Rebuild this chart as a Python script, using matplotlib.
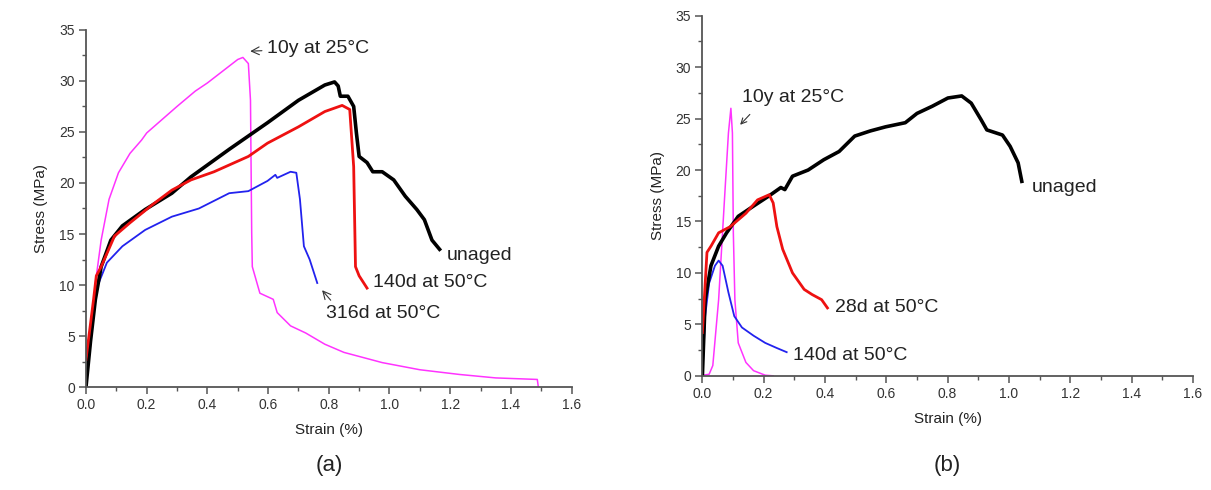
import numpy as np
import matplotlib.pyplot as plt
from matplotlib.ticker import MultipleLocator

plt.rcParams['font.family'] = ['Liberation Sans', 'DejaVu Sans']

# ── panel (a) curves ──────────────────────────────────────────
a_10y_x = [0, 0.019, 0.031, 0.05, 0.076, 0.107, 0.145, 0.183, 0.2, 0.3, 0.36, 0.4, 0.5, 0.517,
           0.535, 0.542, 0.546, 0.548, 0.573, 0.617, 0.63, 0.674, 0.724, 0.787, 0.85, 0.976,
           1.10, 1.23, 1.35, 1.487, 1.49]
a_10y_y = [0, 5.3, 10.2, 14.4, 18.4, 21.0, 22.9, 24.2, 24.9, 27.5, 29.0, 29.8, 32.1, 32.3,
           31.7, 28.1, 15.1, 11.8, 9.2, 8.6, 7.3, 6.0, 5.3, 4.2, 3.4, 2.4,
           1.7, 1.24, 0.9, 0.75, 0.1]

a_unaged_x = [0, 0.015, 0.031, 0.05, 0.082, 0.12, 0.195, 0.283, 0.346, 0.472, 0.598, 0.7, 0.787,
              0.819, 0.831, 0.838, 0.863, 0.882, 0.891, 0.9, 0.926, 0.945, 0.976, 1.014, 1.052,
              1.09, 1.115, 1.14, 1.165]
a_unaged_y = [0, 4.5, 8.6, 11.8, 14.4, 15.8, 17.4, 19.0, 20.6, 23.3, 25.9, 28.1, 29.6,
              29.9, 29.5, 28.5, 28.5, 27.5, 24.9, 22.6, 22.0, 21.1, 21.1, 20.3, 18.7,
              17.4, 16.4, 14.4, 13.5]

a_140d_x = [0, 0.025, 0.034, 0.05, 0.094, 0.145, 0.22, 0.283, 0.346, 0.422, 0.535, 0.598, 0.7,
            0.787, 0.844, 0.869, 0.882, 0.888, 0.9, 0.926]
a_140d_y = [2.7, 8.6, 10.9, 11.8, 14.8, 16.1, 17.9, 19.3, 20.3, 21.1, 22.6, 23.9, 25.5,
            27.0, 27.6, 27.2, 21.6, 11.8, 10.9, 9.7]

a_316d_x = [0, 0.019, 0.038, 0.069, 0.12, 0.195, 0.283, 0.372, 0.472, 0.535, 0.598, 0.624, 0.63,
            0.674, 0.693, 0.705, 0.718, 0.737, 0.762]
a_316d_y = [0, 7.0, 9.9, 12.2, 13.8, 15.4, 16.7, 17.5, 19.0, 19.2, 20.2, 20.8, 20.5,
            21.1, 21.0, 18.4, 13.8, 12.5, 10.2]

# ── panel (b) curves ──────────────────────────────────────────
b_unaged_x = [0, 0.009, 0.028, 0.053, 0.079, 0.117, 0.167, 0.218, 0.256, 0.269, 0.294, 0.345,
              0.396, 0.446, 0.497, 0.548, 0.598, 0.662, 0.7, 0.75, 0.801, 0.846, 0.877, 0.909,
              0.928, 0.979, 1.004, 1.03, 1.042]
b_unaged_y = [0, 7.4, 10.7, 12.6, 13.9, 15.5, 16.5, 17.5, 18.3, 18.1, 19.4, 20.0,
              21.0, 21.8, 23.3, 23.8, 24.2, 24.6, 25.5, 26.2, 27.0, 27.2, 26.5, 24.9,
              23.9, 23.4, 22.3, 20.7, 18.9]

b_28d_x = [0, 0.015, 0.028, 0.053, 0.091, 0.142, 0.18, 0.218, 0.231, 0.243, 0.262, 0.294,
           0.332, 0.358, 0.389, 0.408]
b_28d_y = [4.2, 12.0, 12.6, 13.9, 14.5, 15.8, 17.1, 17.6, 16.8, 14.5, 12.3, 10.0,
           8.4, 7.9, 7.4, 6.6]

b_140d_x = [0, 0.009, 0.022, 0.041, 0.053, 0.066, 0.085, 0.104, 0.129, 0.167, 0.205, 0.243, 0.275]
b_140d_y = [0, 5.8, 9.0, 10.7, 11.2, 10.7, 8.1, 5.8, 4.7, 3.9, 3.2, 2.7, 2.3]

b_10y_x = [0, 0.022, 0.034, 0.053, 0.072, 0.085, 0.093, 0.098, 0.101, 0.106, 0.117, 0.142,
           0.167, 0.205, 0.231]
b_10y_y = [0.05, 0.15, 1.0, 7.4, 17.1, 23.6, 26.0, 23.6, 13.9, 7.4, 3.2, 1.3,
           0.5, 0.06, 0]

x_ticks = [0.0, 0.2, 0.4, 0.6, 0.8, 1.0, 1.2, 1.4, 1.6]
y_ticks = [0, 5, 10, 15, 20, 25, 30, 35]

MAGENTA = "#ff33ff"
RED = "#ee1111"
BLUE = "#2222ee"

fig = plt.figure(figsize=(12.11, 4.90), dpi=100)
ax1 = fig.add_axes([0.071, 0.210, 0.401, 0.729])
ax2 = fig.add_axes([0.580, 0.233, 0.405, 0.735])


def style_axes(ax):
    ax.set_xlim(0, 1.6)
    ax.set_ylim(0, 35)
    ax.set_xticks(x_ticks)
    ax.set_yticks(y_ticks)
    ax.set_xticklabels([f"{t:.1f}" for t in x_ticks])
    ax.set_yticklabels([str(t) for t in y_ticks])
    ax.xaxis.set_minor_locator(MultipleLocator(0.1))
    ax.yaxis.set_minor_locator(MultipleLocator(2.5))
    for s in ["top", "right"]:
        ax.spines[s].set_visible(False)
    for s in ["left", "bottom"]:
        ax.spines[s].set_color("#555555")
        ax.spines[s].set_linewidth(1.3)
    ax.tick_params(which="major", direction="out", length=5, width=1.1,
                   color="#555555", labelsize=10, labelcolor="#333333", pad=3)
    ax.tick_params(which="minor", direction="out", length=3, width=1.0, color="#555555")
    ax.set_xlabel("Strain (%)", fontsize=11, color="#222222", labelpad=8)
    ax.set_ylabel("Stress (MPa)", fontsize=11, color="#222222", labelpad=8)


FS = 14

# panel (a)
ax1.plot(a_10y_x, a_10y_y, color=MAGENTA, lw=1.1)
ax1.plot(a_316d_x, a_316d_y, color=BLUE, lw=1.3)
ax1.plot(a_unaged_x, a_unaged_y, color="black", lw=2.6)
ax1.plot(a_140d_x, a_140d_y, color=RED, lw=2.0)
style_axes(ax1)

ax1.annotate("10y at 25°C", xy=(0.532, 32.9), xytext=(0.598, 33.2),
             fontsize=FS, va="center", color="#222222",
             arrowprops=dict(arrowstyle="->", color="#333333", lw=0.8))
ax1.text(1.19, 12.9, "unaged", fontsize=FS, va="center", color="#222222")
ax1.text(0.945, 10.2, "140d at 50°C", fontsize=FS, va="center", color="#222222")
ax1.annotate("316d at 50°C", xy=(0.772, 9.7), xytext=(0.79, 7.2),
             fontsize=FS, va="center", color="#222222",
             arrowprops=dict(arrowstyle="->", color="#333333", lw=0.8,
                             relpos=(0.08, 1.0)))

# panel (b)
ax2.plot(b_10y_x, b_10y_y, color=MAGENTA, lw=1.1)
ax2.plot(b_140d_x, b_140d_y, color=BLUE, lw=1.3)
ax2.plot(b_unaged_x, b_unaged_y, color="black", lw=2.6)
ax2.plot(b_28d_x, b_28d_y, color=RED, lw=2.0)
style_axes(ax2)

ax2.text(0.129, 27.0, "10y at 25°C", fontsize=FS, va="center", color="#222222")
ax2.annotate("", xy=(0.117, 24.2), xytext=(0.161, 25.6),
             arrowprops=dict(arrowstyle="->", color="#333333", lw=0.8))
ax2.text(1.074, 18.3, "unaged", fontsize=FS, va="center", color="#222222")
ax2.text(0.434, 6.6, "28d at 50°C", fontsize=FS, va="center", color="#222222")
ax2.text(0.294, 2.0, "140d at 50°C", fontsize=FS, va="center", color="#222222")

fig.text(0.272, 0.05, "(a)", fontsize=16, ha="center", va="center", color="#222222")
fig.text(0.782, 0.05, "(b)", fontsize=16, ha="center", va="center", color="#222222")

fig.savefig("out.png", dpi=100)
